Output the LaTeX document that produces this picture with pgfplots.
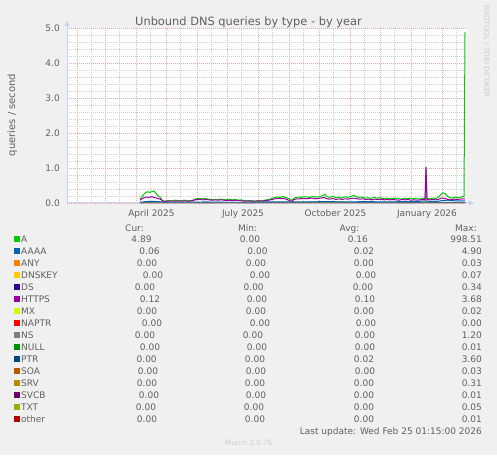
\documentclass[border=0pt]{standalone}
\usepackage{fontspec}
\setmainfont{DejaVu Sans}
\usepackage{pgfplots}
\pgfplotsset{compat=1.18}
\usetikzlibrary{arrows.meta}
\definecolor{bg}{HTML}{F0F0F0}
\definecolor{txt}{HTML}{606060}
\definecolor{faint}{HTML}{CCCCCC}
\definecolor{mgrid}{HTML}{EBA6A6}
\definecolor{ngrid}{HTML}{CFCFCF}
\definecolor{axc}{HTML}{C8D0F4}
\definecolor{cA}{HTML}{00CC00}
\definecolor{cAAAA}{HTML}{0066B3}
\definecolor{cANY}{HTML}{FF8000}
\definecolor{cDNSKEY}{HTML}{FFCC00}
\definecolor{cDS}{HTML}{330099}
\definecolor{cHTTPS}{HTML}{990099}
\definecolor{cMX}{HTML}{CCFF00}
\definecolor{cNAPTR}{HTML}{FF0000}
\definecolor{cNS}{HTML}{808080}
\definecolor{cNULL}{HTML}{008F00}
\definecolor{cPTR}{HTML}{00487D}
\definecolor{cSOA}{HTML}{B35A00}
\definecolor{cSRV}{HTML}{B38F00}
\definecolor{cSVCB}{HTML}{6B006B}
\definecolor{cTXT}{HTML}{8FB300}
\definecolor{cother}{HTML}{B30000}
\newcommand\tf{\fontsize{9}{10}\selectfont}
\newcommand\lf{\fontsize{9}{10}\selectfont}
\begin{document}
\begin{tikzpicture}[x=1pt,y=1pt]
\fill[bg] (0,0) rectangle (497,455);
\begin{axis}[
  at={(67pt,252pt)}, anchor=south west,
  scale only axis, width=400pt, height=175pt,
  xmin=21, xmax=421, ymin=0, ymax=5,
  clip=false,
  axis background/.style={fill=white},
  axis line style={draw=none},
  major tick length=0pt, minor tick length=0pt,
  xtick={31,59,90,120,151,181,212,243,273,304,334,365,396},
  xticklabels={},
  minor xtick={45,73,104,134,165,195,226,257,287,318,348,379,410},
  extra x ticks={105.5,197,289.5,381},
  extra x tick labels={April 2025,July 2025,October 2025,January 2026},
  extra x tick style={grid=none},
  ytick={0,1,2,3,4,5},
  yticklabels={0.0,1.0,2.0,3.0,4.0,5.0},
  minor ytick={0.2,0.4,0.6,0.8,1.2,1.4,1.6,1.8,2.2,2.4,2.6,2.8,3.2,3.4,3.6,3.8,4.2,4.4,4.6,4.8},
  grid=both,
  major grid style={draw=mgrid, line width=0.9pt, dash pattern=on 1pt off 1pt},
  minor grid style={draw=ngrid, line width=0.9pt, dash pattern=on 1pt off 1pt},
  tick label style={font=\tf, text=txt},
  xticklabel style={anchor=base, inner sep=0pt, yshift=-13.3pt},
  yticklabel style={anchor=east, inner sep=0pt, xshift=-7pt},
  every axis plot/.append style={line width=1pt, mark=none},
]
\draw[axc, line width=1pt, -{Triangle[width=5pt,length=5pt]}] (rel axis cs:0,0) -- ([xshift=7pt]rel axis cs:1,0);
\draw[axc, line width=1pt, -{Triangle[width=5pt,length=5pt]}] (rel axis cs:0,0) -- ([yshift=7pt]rel axis cs:0,1);
% zero series
\addplot[cother] coordinates {(94,0)(419,0)};
\addplot[cANY] coordinates {(94,0)(419,0)};
\addplot[cDNSKEY] coordinates {(94,0)(419,0)};
\addplot[cDS] coordinates {(94,0)(419,0)};
\addplot[cMX] coordinates {(94,0)(419,0)};
\addplot[cNAPTR] coordinates {(94,0)(419,0)};
\addplot[cNULL] coordinates {(94,0)(419,0)};
\addplot[cSOA] coordinates {(94,0)(419,0)};
\addplot[cSRV] coordinates {(94,0)(419,0)};
\addplot[cSVCB] coordinates {(94,0)(419,0)};
\addplot[cTXT] coordinates {(94,0)(419,0)};
% PTR
\addplot[cPTR] coordinates {(94,0.01)(100,0.02)(110,0.03)(120,0.02)(140,0.02)(160,0.01)(180,0.02)(200,0.01)(220,0.02)(240,0.02)(260,0.02)(280,0.03)(300,0.02)(320,0.02)(340,0.02)(360,0.01)(380,0.02)(400,0.02)(419,0.02)};
% AAAA
\addplot[cAAAA] coordinates {(94,0.02)(100,0.04)(108,0.05)(115,0.03)(120,0.02)(140,0.02)(160,0.03)(180,0.02)(200,0.02)(220,0.03)(240,0.03)(260,0.03)(280,0.04)(300,0.03)(320,0.04)(340,0.03)(360,0.04)(370,0.04)(378,0.06)(382,0.05)(390,0.04)(396,0.07)(402,0.08)(410,0.06)(419,0.06)};
% A
\addplot[cA] coordinates {(94,0.12)(96,0.18)(98,0.25)(100,0.31)(102,0.32)(104,0.30)(106,0.33)(108,0.34)(110,0.28)(112,0.20)(114,0.17)(116,0.08)(118,0.05)(120,0.06)(123,0.07)(126,0.06)(129,0.08)(132,0.07)(135,0.06)(138,0.08)(141,0.07)(144,0.06)(147,0.08)(150,0.12)(153,0.13)(156,0.12)(159,0.13)(162,0.11)(165,0.10)(168,0.09)(171,0.10)(174,0.11)(177,0.10)(180,0.09)(183,0.11)(186,0.09)(189,0.10)(192,0.08)(195,0.09)(198,0.07)(201,0.06)(204,0.07)(207,0.06)(210,0.05)(213,0.07)(216,0.06)(219,0.08)(222,0.10)(225,0.12)(228,0.15)(231,0.17)(234,0.16)(237,0.18)(240,0.16)(243,0.12)(245,0.08)(247,0.10)(249,0.15)(252,0.17)(255,0.16)(258,0.18)(261,0.17)(264,0.16)(267,0.19)(270,0.17)(273,0.18)(276,0.20)(279,0.25)(281,0.18)(284,0.16)(287,0.19)(290,0.15)(293,0.17)(296,0.14)(299,0.18)(302,0.16)(305,0.19)(308,0.22)(310,0.18)(313,0.16)(316,0.17)(319,0.14)(322,0.15)(325,0.13)(328,0.16)(331,0.14)(334,0.15)(337,0.12)(340,0.14)(343,0.13)(346,0.12)(349,0.14)(352,0.13)(355,0.11)(358,0.13)(361,0.12)(364,0.14)(367,0.12)(370,0.13)(373,0.11)(376,0.13)(379,0.14)(380,0.16)(381,0.13)(384,0.12)(387,0.14)(390,0.13)(393,0.18)(395,0.25)(397,0.29)(399,0.27)(401,0.21)(403,0.16)(406,0.14)(409,0.16)(412,0.15)(415,0.17)(418,0.19)(419,4.89)};
% NS
\addplot[cNS] coordinates {(94,0)(379,0)(380,0.95)(381,0)(419,0)};
% HTTPS
\addplot[cHTTPS] coordinates {(94,0.08)(96,0.12)(98,0.15)(100,0.17)(103,0.16)(106,0.18)(109,0.15)(112,0.13)(115,0.10)(118,0.04)(121,0.05)(124,0.05)(127,0.06)(130,0.05)(133,0.06)(136,0.05)(139,0.06)(142,0.05)(145,0.06)(148,0.08)(151,0.10)(154,0.10)(157,0.09)(160,0.10)(163,0.09)(166,0.08)(169,0.09)(172,0.08)(175,0.09)(178,0.08)(181,0.07)(184,0.08)(187,0.07)(190,0.08)(193,0.07)(196,0.06)(199,0.05)(202,0.06)(205,0.05)(208,0.05)(211,0.06)(214,0.05)(217,0.06)(220,0.07)(223,0.08)(226,0.10)(229,0.12)(232,0.13)(235,0.12)(238,0.13)(241,0.10)(244,0.06)(246,0.05)(248,0.10)(251,0.12)(254,0.12)(257,0.13)(260,0.12)(263,0.13)(266,0.14)(269,0.12)(272,0.13)(275,0.14)(278,0.16)(281,0.12)(284,0.11)(287,0.13)(290,0.10)(293,0.12)(296,0.10)(299,0.12)(302,0.11)(305,0.13)(308,0.14)(311,0.12)(314,0.11)(317,0.12)(320,0.10)(323,0.11)(326,0.09)(329,0.11)(332,0.10)(335,0.11)(338,0.09)(341,0.10)(344,0.09)(347,0.10)(350,0.09)(353,0.08)(356,0.10)(359,0.09)(362,0.10)(365,0.08)(368,0.09)(371,0.08)(374,0.09)(377,0.10)(379,0.10)(380,1.03)(381,0.10)(384,0.09)(387,0.10)(390,0.09)(393,0.11)(396,0.14)(399,0.13)(402,0.10)(405,0.09)(408,0.11)(411,0.10)(414,0.11)(417,0.12)(419,0.12)};
\end{axis}
% title and labels
\node[anchor=base, inner sep=0pt, text=txt, font=\fontsize{11.4}{13}\selectfont] at (248.5,429) {Unbound DNS queries by type - by year};
\node[rotate=90, anchor=base, inner sep=0pt, text=txt, font=\fontsize{10}{12}\selectfont] at (15,340) {queries / second};
\node[rotate=-90, anchor=base west, inner sep=0pt, text=faint, font=\fontsize{7.2}{8}\selectfont] at (484,450) {RRDTOOL / TOBI OETIKER};
% legend header
\node[anchor=base, inner sep=0pt, text=txt, font=\lf] at (134.5,223.7) {Cur:};
\node[anchor=base, inner sep=0pt, text=txt, font=\lf] at (247.5,223.7) {Min:};
\node[anchor=base, inner sep=0pt, text=txt, font=\lf] at (349.5,223.7) {Avg:};
\node[anchor=base east, inner sep=0pt, text=txt, font=\lf] at (477,223.7) {Max:};
\foreach \n/\c/\cu/\cx/\mi/\mx/\av/\ax/\ma [count=\i from 0] in {
A/cA/4.89/141.5/0.00/250/0.16/357.8/998.51,
AAAA/cAAAA/0.06/149.5/0.00/257.5/0.02/364/4.90,
ANY/cANY/0.00/147/0.00/256/0.00/363.8/0.03,
DNSKEY/cDNSKEY/0.00/153/0.00/260/0.00/366/0.07,
DS/cDS/0.00/145/0.00/253.7/0.00/363/0.34,
HTTPS/cHTTPS/0.12/150/0.00/257/0.10/365/3.68,
MX/cMX/0.00/147/0.00/256/0.00/364/0.02,
NAPTR/cNAPTR/0.00/152/0.00/260/0.00/366/0.00,
NS/cNS/0.00/145/0.00/253/0.00/365/1.20,
NULL/cNULL/0.00/150/0.00/257/0.00/365/0.01,
PTR/cPTR/0.00/146.7/0.00/255/0.02/364/3.60,
SOA/cSOA/0.00/148/0.00/256/0.00/365/0.03,
SRV/cSRV/0.00/147/0.00/255/0.00/364/0.31,
SVCB/cSVCB/0.00/149/0.00/256/0.00/364/0.01,
TXT/cTXT/0.00/146/0.00/254/0.00/364/0.05,
other/cother/0.00/147/0.00/255/0.00/364/0.01}{
  \pgfmathsetmacro{\yc}{455-239-12*\i}
  \fill[\c] (14,\yc-3) rectangle (20,\yc+3);
  \node[anchor=base west, inner sep=0pt, text=txt, font=\lf] at (21,\yc-3.3) {\n};
  \node[anchor=base, inner sep=0pt, text=txt, font=\lf] at (\cx,\yc-3.3) {\cu};
  \node[anchor=base, inner sep=0pt, text=txt, font=\lf] at (\mx,\yc-3.3) {\mi};
  \node[anchor=base, inner sep=0pt, text=txt, font=\lf] at (\ax,\yc-3.3) {\av};
  \node[anchor=base east, inner sep=0pt, text=txt, font=\lf] at (482,\yc-3.3) {\ma};
}
\node[anchor=base east, inner sep=0pt, text=txt, font=\lf] at (482,21) {Last update: Wed Feb 25 01:15:00 2026};
\node[anchor=base west, inner sep=0pt, text=faint, font=\fontsize{7.2}{8}\selectfont] at (225,10) {Munin 2.0.76};
\end{tikzpicture}
\end{document}
